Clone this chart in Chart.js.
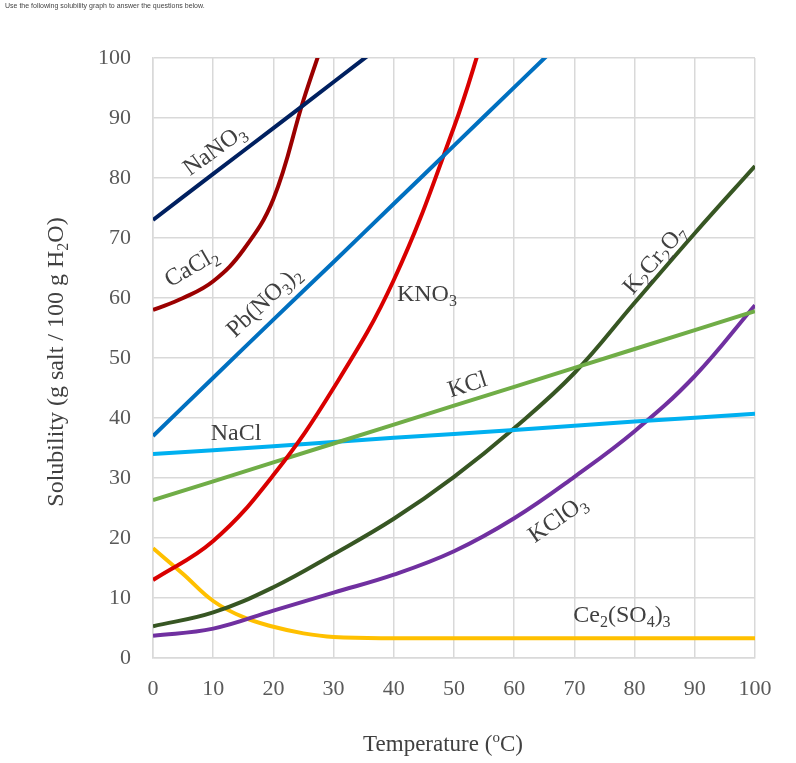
<!DOCTYPE html>
<html>
<head>
<meta charset="utf-8">
<script src="https://cdn.jsdelivr.net/npm/chart.js@4/dist/chart.umd.min.js"></script>
<style>
    html, body { margin: 0; padding: 0; background: #fff; }
    #wrap { position: relative; width: 796px; height: 763px; }
    #note { position: absolute; left: 5px; top: 2px; font: 7px "Liberation Sans", Arial, sans-serif; color: #444; }
</style>
</head>
<body>
<div id="wrap">
    <div id="note">Use the following solubility graph to answer the questions below.</div>
    <canvas id="chart" width="796" height="763"></canvas>
</div>
<script>
// Temperatures (°C) and solubility (g / 100 g H2O)
const tempsNaNO3 = [0, 10, 20, 30, 40];
const valsNaNO3 = [73, 80.7, 88.3, 96, 103.7];

const tempsCaCl2 = [0, 5, 10, 15, 20, 25, 28];
const valsCaCl2 = [58, 60, 62.8, 68, 76.5, 93, 102];

const tempsPbNO3 = [0, 10, 20, 30, 40, 50, 60, 70];
const valsPbNO3 = [37, 46.7, 56.4, 66, 75.7, 85.4, 95.1, 104.8];

const tempsKNO3 = [0, 10, 20, 30, 40, 50, 55];
const valsKNO3 = [13, 19.5, 30.5, 45, 63, 88.5, 104];

const tempsKCl = [0, 20, 40, 60, 80, 100];
const valsKCl = [26.3, 32.6, 38.9, 45.2, 51.5, 57.8];

const tempsNaCl = [0, 20, 40, 60, 80, 100];
const valsNaCl = [34, 35.3, 36.7, 38, 39.4, 40.7];

const tempsK2Cr2O7 = [0, 10, 20, 30, 40, 50, 60, 70, 80, 90, 100];
const valsK2Cr2O7 = [5.3, 7.6, 11.8, 17.3, 23.2, 30.2, 38.3, 47.5, 59.2, 70.8, 82];

const tempsKClO3 = [0, 10, 20, 30, 40, 50, 60, 70, 80, 90, 100];
const valsKClO3 = [3.7, 4.9, 7.9, 10.9, 13.9, 17.8, 23.3, 30.2, 37.8, 47, 58.8];

const tempsCe2SO43 = [0, 5, 10, 15, 20, 25, 30, 40, 60, 80, 100];
const valsCe2SO43 = [18.3, 14, 9.5, 6.8, 5.2, 4.1, 3.5, 3.3, 3.3, 3.3, 3.3];

const xTicks = [0, 10, 20, 30, 40, 50, 60, 70, 80, 90, 100];
const yTicks = [0, 10, 20, 30, 40, 50, 60, 70, 80, 90, 100];

// Curve labels: text parts (sub = subscript), position in data units, rotation in degrees
const curveLabels = [
    { parts: [["NaNO"], ["3", "sub"]], x: 10.1, y: 84.8, angle: -36 },
    { parts: [["CaCl"], ["2", "sub"]], x: 6.3, y: 65.3, angle: -30 },
    { parts: [["Pb(NO"], ["3", "sub"], [")"], ["2", "sub"]], x: 18.3, y: 59.5, angle: -43 },
    { parts: [["KNO"], ["3", "sub"]], x: 45.5, y: 60.8, angle: 0 },
    { parts: [["KCl"]], x: 52.2, y: 45.7, angle: -18 },
    { parts: [["NaCl"]], x: 13.8, y: 37.6, angle: 0 },
    { parts: [["K"], ["2", "sub"], ["Cr"], ["2", "sub"], ["O"], ["7", "sub"]], x: 83.2, y: 66.5, angle: -49 },
    { parts: [["KClO"], ["3", "sub"]], x: 67.1, y: 23.3, angle: -35 },
    { parts: [["Ce"], ["2", "sub"], ["(SO"], ["4", "sub"], [")"], ["3", "sub"]], x: 77.9, y: 7.3, angle: 0 }
];

const SERIF = '"Liberation Serif", "Times New Roman", serif';

function toPoints(xs, ys) {
    return xs.map((x, i) => ({ x: x, y: ys[i] }));
}

function makeSet(label, xs, ys, color) {
    return {
        label: label,
        data: toPoints(xs, ys),
        borderColor: color,
        backgroundColor: color,
        borderWidth: 4,
        pointRadius: 0,
        showLine: true,
        tension: 0.4
    };
}

// Draws text with subscripts / superscripts, centred at (cx, cy)
function drawRich(ctx, parts, cx, cy, angle, size, color) {
    const small = Math.round(size * 0.65);
    ctx.save();
    ctx.translate(cx, cy);
    ctx.rotate(angle * Math.PI / 180);
    ctx.fillStyle = color;
    ctx.textBaseline = "alphabetic";
    ctx.textAlign = "left";
    let total = 0;
    parts.forEach(([t, kind]) => {
        ctx.font = (kind ? small : size) + "px " + SERIF;
        total += ctx.measureText(t).width;
    });
    let x = -total / 2;
    const base = size * 0.33;
    parts.forEach(([t, kind]) => {
        ctx.font = (kind ? small : size) + "px " + SERIF;
        let dy = 0;
        if (kind === "sub") dy = size * 0.22;
        if (kind === "sup") dy = -size * 0.38;
        ctx.fillText(t, x, base + dy);
        x += ctx.measureText(t).width;
    });
    ctx.restore();
}

const labelPlugin = {
    id: "curveLabels",
    afterDatasetsDraw(chart) {
        const ctx = chart.ctx;
        const xs = chart.scales.x;
        const ys = chart.scales.y;
        curveLabels.forEach((l) => {
            drawRich(ctx, l.parts, xs.getPixelForValue(l.x), ys.getPixelForValue(l.y), l.angle, 24, "#404040");
        });
        // axis titles
        const area = chart.chartArea;
        drawRich(ctx, [["Temperature ("], ["o", "sup"], ["C)"]], 443, 743, 0, 23, "#404040");
        drawRich(ctx, [["Solubility (g salt / 100 g H"], ["2", "sub"], ["O)"]], 55, (area.top + area.bottom) / 2 + 4, -90, 24, "#404040");
    }
};

new Chart(document.getElementById("chart"), {
    type: "scatter",
    data: {
        datasets: [
            makeSet("NaNO3", tempsNaNO3, valsNaNO3, "#002060"),
            makeSet("CaCl2", tempsCaCl2, valsCaCl2, "#9b0000"),
            makeSet("Pb(NO3)2", tempsPbNO3, valsPbNO3, "#0070c0"),
            makeSet("KNO3", tempsKNO3, valsKNO3, "#d90000"),
            makeSet("KCl", tempsKCl, valsKCl, "#70ad47"),
            makeSet("NaCl", tempsNaCl, valsNaCl, "#00b0f0"),
            makeSet("K2Cr2O7", tempsK2Cr2O7, valsK2Cr2O7, "#375623"),
            makeSet("KClO3", tempsKClO3, valsKClO3, "#7030a0"),
            makeSet("Ce2(SO4)3", tempsCe2SO43, valsCe2SO43, "#ffc000")
        ]
    },
    options: {
        responsive: false,
        animation: false,
        layout: { padding: { top: 58, right: 41, left: 0, bottom: 0 } },
        plugins: {
            legend: { display: false },
            tooltip: { enabled: false }
        },
        scales: {
            x: {
                type: "linear",
                min: 0,
                max: 100,
                afterBuildTicks: (scale) => { scale.ticks = xTicks.map((v) => ({ value: v })); },
                afterFit: (scale) => { scale.height = 105; },
                grid: { color: "#d9d9d9", lineWidth: 1.5, drawTicks: false },
                border: { color: "#d9d9d9", width: 1.5 },
                ticks: { padding: 18, color: "#595959", font: { family: SERIF, size: 22 } }
            },
            y: {
                type: "linear",
                min: 0,
                max: 100,
                afterBuildTicks: (scale) => { scale.ticks = yTicks.map((v) => ({ value: v })); },
                afterFit: (scale) => { scale.width = 153; },
                grid: { color: "#d9d9d9", lineWidth: 1.5, drawTicks: false },
                border: { color: "#d9d9d9", width: 1.5 },
                ticks: { padding: 22, color: "#595959", font: { family: SERIF, size: 22 } }
            }
        }
    },
    plugins: [labelPlugin]
});
</script>
</body>
</html>
